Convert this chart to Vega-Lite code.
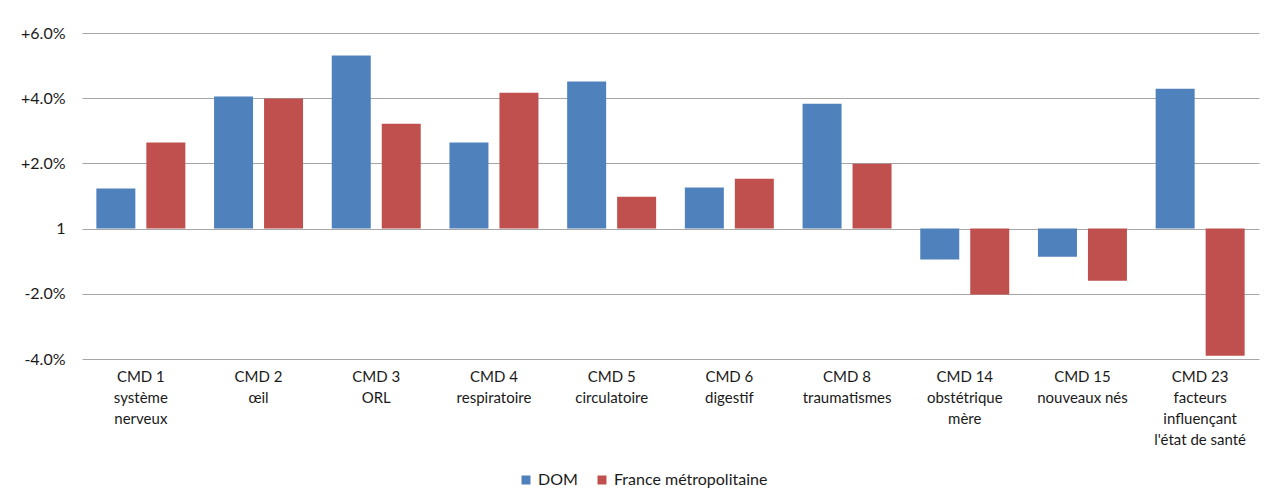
{
  "$schema": "https://vega.github.io/schema/vega-lite/v6.json",
  "autosize": {"type": "none"},
  "width": 1177,
  "height": 326,
  "padding": {"left": 82, "top": 33, "right": 20, "bottom": 139},
  "background": "white",
  "data": {
    "values": [
      {"cmd": "CMD 1|système|nerveux", "serie": "DOM", "v": 1.23},
      {"cmd": "CMD 1|système|nerveux", "serie": "France métropolitaine", "v": 2.64},
      {"cmd": "CMD 2|œil", "serie": "DOM", "v": 4.05},
      {"cmd": "CMD 2|œil", "serie": "France métropolitaine", "v": 3.99},
      {"cmd": "CMD 3|ORL", "serie": "DOM", "v": 5.31},
      {"cmd": "CMD 3|ORL", "serie": "France métropolitaine", "v": 3.22},
      {"cmd": "CMD 4|respiratoire", "serie": "DOM", "v": 2.64},
      {"cmd": "CMD 4|respiratoire", "serie": "France métropolitaine", "v": 4.17},
      {"cmd": "CMD 5|circulatoire", "serie": "DOM", "v": 4.51},
      {"cmd": "CMD 5|circulatoire", "serie": "France métropolitaine", "v": 0.98},
      {"cmd": "CMD 6|digestif", "serie": "DOM", "v": 1.26},
      {"cmd": "CMD 6|digestif", "serie": "France métropolitaine", "v": 1.53},
      {"cmd": "CMD 8|traumatismes", "serie": "DOM", "v": 3.83},
      {"cmd": "CMD 8|traumatismes", "serie": "France métropolitaine", "v": 1.99},
      {"cmd": "CMD 14|obstétrique|mère", "serie": "DOM", "v": -0.95},
      {"cmd": "CMD 14|obstétrique|mère", "serie": "France métropolitaine", "v": -2.02},
      {"cmd": "CMD 15|nouveaux nés", "serie": "DOM", "v": -0.86},
      {"cmd": "CMD 15|nouveaux nés", "serie": "France métropolitaine", "v": -1.6},
      {"cmd": "CMD 23|facteurs|influençant|l'état de santé", "serie": "DOM", "v": 4.29},
      {"cmd": "CMD 23|facteurs|influençant|l'état de santé", "serie": "France métropolitaine", "v": -3.9}
    ]
  },
  "mark": {"type": "bar"},
  "encoding": {
    "x": {
      "field": "cmd", "type": "nominal", "sort": null,
      "scale": {"paddingInner": 0.244, "paddingOuter": 0.122},
      "axis": {
        "title": null, "labelAngle": 0, "domain": false, "ticks": false,
        "labelExpr": "split(datum.label, '|')",
        "labelFont": "Lato", "labelFontSize": 15, "labelColor": "#1a1a1a",
        "labelLineHeight": 21.3, "labelPadding": 10, "grid": false
      }
    },
    "xOffset": {
      "field": "serie", "type": "nominal",
      "scale": {"paddingInner": 0.22, "paddingOuter": 0}
    },
    "y": {
      "field": "v", "type": "quantitative",
      "scale": {"domain": [-4, 6], "nice": false, "zero": true},
      "axis": {
        "title": null, "values": [-4, -2, 0, 2, 4, 6],
        "labelExpr": "datum.value == 0 ? '1' : (datum.value > 0 ? '+' : '-') + format(abs(datum.value), '.1f') + '%'",
        "domain": false, "ticks": false, "labelPadding": 17,
        "labelFont": "Lato", "labelFontSize": 16, "labelColor": "#1a1a1a",
        "gridColor": "#a6a6a6", "gridWidth": 1
      }
    },
    "color": {
      "field": "serie", "type": "nominal",
      "scale": {"domain": ["DOM", "France métropolitaine"], "range": ["#4F81BD", "#C0504D"]},
      "legend": {
        "title": null, "orient": "none", "direction": "horizontal",
        "legendX": 436, "legendY": 439,
        "symbolType": "square", "symbolSize": 81, "symbolStrokeWidth": 0,
        "labelFont": "Lato", "labelFontSize": 16, "labelColor": "#1a1a1a",
        "columnPadding": 16
      }
    }
  },
  "config": {"view": {"stroke": null}}
}
